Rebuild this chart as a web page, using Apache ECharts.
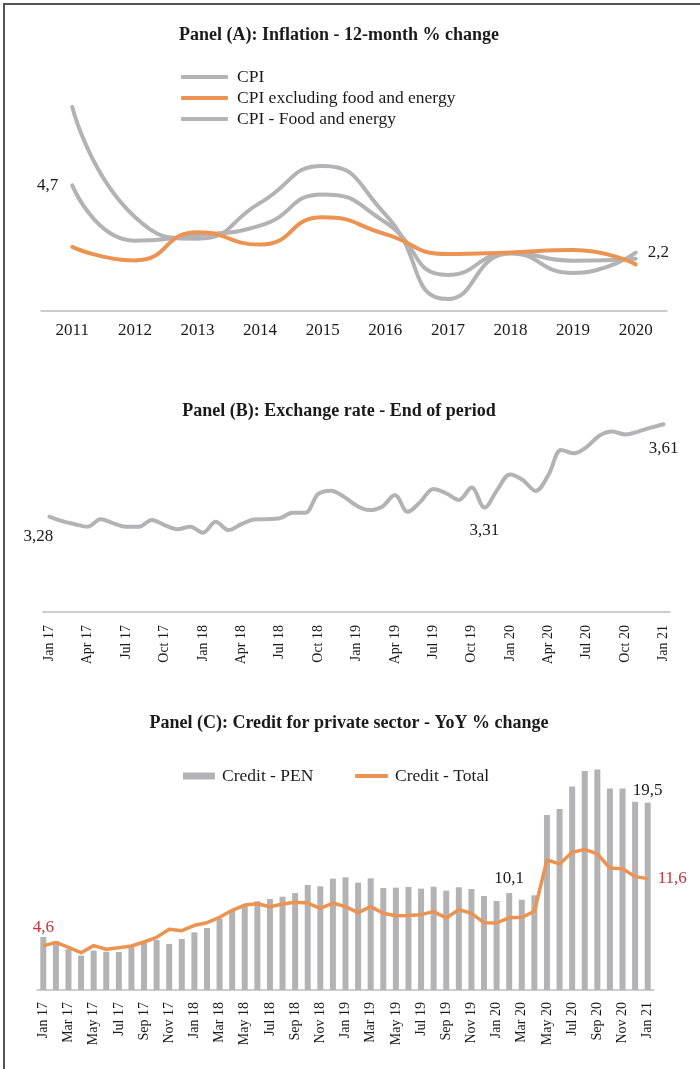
<!DOCTYPE html>
<html>
<head>
<meta charset="utf-8">
<script src="https://cdn.jsdelivr.net/npm/echarts@6/dist/echarts.min.js"></script>
<style>
  body { margin: 0; background: #fff; }
  #main { position: absolute; left: 0; top: 0; width: 700px; height: 1069px; }
  .frame { position: absolute; left: 3px; top: 3px; width: 700px; height: 1069px;
           border-top: 2px solid #555; border-left: 2px solid #555; pointer-events: none; }
</style>
</head>
<body>
<div id="main"></div>
<div class="frame"></div>
<script>
// panel A - inflation, 12-month % change
const years = ['2011', '2012', '2013', '2014', '2015', '2016', '2017', '2018', '2019', '2020'];
const cpi = [4.74, 2.65, 2.86, 3.22, 4.40, 3.35, 1.36, 2.19, 1.90, 1.97];
const cpiCore = [2.42, 1.91, 2.97, 2.51, 3.54, 2.90, 2.15, 2.21, 2.30, 1.76];
const cpiFoodEnergy = [7.70, 3.55, 2.73, 4.08, 5.47, 3.65, 0.45, 2.17, 1.43, 2.20];

// panel B and C - monthly, Jan 17 .. Jan 21
const months = [
  'Jan 17', 'Feb 17', 'Mar 17', 'Apr 17', 'May 17', 'Jun 17', 'Jul 17', 'Aug 17', 'Sep 17', 'Oct 17', 'Nov 17', 'Dec 17',
  'Jan 18', 'Feb 18', 'Mar 18', 'Apr 18', 'May 18', 'Jun 18', 'Jul 18', 'Aug 18', 'Sep 18', 'Oct 18', 'Nov 18', 'Dec 18',
  'Jan 19', 'Feb 19', 'Mar 19', 'Apr 19', 'May 19', 'Jun 19', 'Jul 19', 'Aug 19', 'Sep 19', 'Oct 19', 'Nov 19', 'Dec 19',
  'Jan 20', 'Feb 20', 'Mar 20', 'Apr 20', 'May 20', 'Jun 20', 'Jul 20', 'Aug 20', 'Sep 20', 'Oct 20', 'Nov 20', 'Dec 20',
  'Jan 21'
];
const exchangeRate = [
  3.279, 3.263, 3.252, 3.243, 3.270, 3.255, 3.243, 3.243, 3.267, 3.249, 3.234, 3.243,
  3.222, 3.261, 3.231, 3.252, 3.269, 3.270, 3.273, 3.293, 3.293, 3.359, 3.371, 3.350,
  3.318, 3.302, 3.314, 3.356, 3.296, 3.332, 3.377, 3.362, 3.338, 3.382, 3.311, 3.374,
  3.429, 3.409, 3.370, 3.427, 3.516, 3.504, 3.527, 3.567, 3.581, 3.571, 3.581, 3.595,
  3.607
];
const creditPen = [
  5.52, 5.10, 4.24, 3.58, 4.10, 3.99, 3.96, 4.62, 5.10, 5.20, 4.79, 5.31,
  6.00, 6.46, 7.43, 8.26, 8.78, 9.24, 9.48, 9.72, 10.10, 10.94, 10.80, 11.60,
  11.74, 11.18, 11.63, 10.63, 10.66, 10.73, 10.56, 10.76, 10.35, 10.70, 10.52, 9.79,
  9.27, 10.10, 9.41, 9.86, 18.23, 18.85, 21.20, 22.80, 22.98, 21.00, 21.00, 19.60,
  19.50
];
const creditTotal = [
  4.60, 4.96, 4.44, 3.89, 4.62, 4.24, 4.41, 4.58, 5.00, 5.49, 6.32, 6.18,
  6.74, 7.01, 7.57, 8.30, 8.85, 8.99, 8.68, 8.96, 9.13, 9.06, 8.50, 9.06,
  8.68, 8.06, 8.68, 7.99, 7.74, 7.77, 7.85, 8.16, 7.50, 8.37, 7.99, 7.01,
  6.98, 7.53, 7.57, 8.20, 13.54, 13.13, 14.34, 14.65, 14.17, 12.71, 12.64, 11.81,
  11.60
];

const serif = "'Liberation Serif', 'Times New Roman', serif";
const grey = '#b3b3b5';
const orange = '#ec9352';
const red = '#c8323c';
const ink = '#1a1a1a';

const comma = (v, d) => v.toFixed(d).replace('.', ',');

// put a label on a few chosen points only
function withLabels(values, marks) {
  return values.map((v, i) => {
    if (!marks[i]) return v;
    return { value: v, label: Object.assign({ show: true }, marks[i]) };
  });
}

const chart = echarts.init(document.getElementById('main'));

const axisLine = { lineStyle: { color: '#bdbdbd', width: 1.5 } };
const titleStyle = { fontFamily: serif, fontSize: 18, fontWeight: 'bold', color: ink };

const option = {
  animation: false,
  textStyle: { fontFamily: serif, color: ink },
  title: [
    { text: 'Panel (A): Inflation - 12-month % change', left: 334, top: 21, textAlign: 'center',
      textStyle: titleStyle },
    { text: 'Panel (B): Exchange rate - End of period', left: 334, top: 397, textAlign: 'center',
      textStyle: titleStyle },
    { text: 'Panel (C): Credit for private sector - YoY % change', left: 344, top: 709, textAlign: 'center',
      textStyle: titleStyle }
  ],
  legend: [
    { data: ['CPI', 'CPI excluding food and energy', 'CPI - Food and energy'],
      orient: 'vertical', left: 181, top: 68, padding: 0, itemGap: 3,
      icon: 'roundRect', itemWidth: 47, itemHeight: 4,
      textStyle: { fontFamily: serif, fontSize: 17.5, lineHeight: 17, color: ink, padding: [0, 0, 0, 4] } },
    { data: ['Credit - PEN'], left: 183, top: 767, padding: 0,
      icon: 'rect', itemWidth: 32, itemHeight: 7,
      textStyle: { fontFamily: serif, fontSize: 17.5, lineHeight: 17, color: ink, padding: [0, 0, 0, 2] } },
    { data: ['Credit - Total'], left: 355, top: 767, padding: 0,
      icon: 'roundRect', itemWidth: 33, itemHeight: 4,
      textStyle: { fontFamily: serif, fontSize: 17.5, lineHeight: 17, color: ink, padding: [0, 0, 0, 2] } }
  ],
  grid: [
    { left: 41, right: 33, top: 99, height: 212 },
    { left: 43, right: 30, top: 415, height: 197 },
    { left: 37, right: 46, top: 750, height: 240 }
  ],
  xAxis: [
    { type: 'category', gridIndex: 0, data: years, boundaryGap: true,
      axisLine: axisLine, axisTick: { show: false },
      axisLabel: { fontFamily: serif, fontSize: 17, color: ink, margin: 11 } },
    { type: 'category', gridIndex: 1, data: months, boundaryGap: true,
      axisLine: axisLine, axisTick: { show: false },
      axisLabel: { fontFamily: serif, fontSize: 14, color: ink, rotate: 90, interval: 2, margin: 13 } },
    { type: 'category', gridIndex: 2, data: months, boundaryGap: true,
      axisLine: axisLine, axisTick: { show: false },
      axisLabel: { fontFamily: serif, fontSize: 14, color: ink, rotate: 90, interval: 1, margin: 12 } }
  ],
  yAxis: [
    { type: 'value', gridIndex: 0, min: 0, max: 8, show: false },
    { type: 'value', gridIndex: 1, min: 2.94, max: 3.64, show: false },
    { type: 'value', gridIndex: 2, min: 0, max: 25, show: false }
  ],
  series: [
    { name: 'CPI', type: 'line', xAxisIndex: 0, yAxisIndex: 0, smooth: 0.55,
      symbol: 'circle', symbolSize: 0, z: 3,
      lineStyle: { color: grey, width: 4, cap: 'round' }, itemStyle: { color: grey },
      label: { fontFamily: serif, fontSize: 17, color: ink },
      data: withLabels(cpi, { 0: { position: 'left', distance: 14, formatter: p => comma(p.value, 1) } }) },
    { name: 'CPI excluding food and energy', type: 'line', xAxisIndex: 0, yAxisIndex: 0, smooth: 0.55,
      symbol: 'none', z: 4,
      lineStyle: { color: orange, width: 4, cap: 'round' }, itemStyle: { color: orange },
      data: cpiCore },
    { name: 'CPI - Food and energy', type: 'line', xAxisIndex: 0, yAxisIndex: 0, smooth: 0.55,
      symbol: 'circle', symbolSize: 0, z: 3,
      lineStyle: { color: grey, width: 4, cap: 'round' }, itemStyle: { color: grey },
      label: { fontFamily: serif, fontSize: 17, color: ink },
      data: withLabels(cpiFoodEnergy, { 9: { position: 'right', distance: 12, formatter: p => comma(p.value, 1) } }) },

    { name: 'Exchange rate', type: 'line', xAxisIndex: 1, yAxisIndex: 1, smooth: 0.35,
      symbol: 'circle', symbolSize: 0,
      lineStyle: { color: grey, width: 4, cap: 'round' }, itemStyle: { color: grey },
      label: { fontFamily: serif, fontSize: 17, color: ink },
      data: withLabels(exchangeRate, {
        0: { position: 'bottom', distance: 11, offset: [-11, 0], formatter: p => comma(p.value, 2) },
        34: { position: 'bottom', distance: 14, formatter: p => comma(p.value, 2) },
        48: { position: 'bottom', distance: 16, formatter: p => comma(p.value, 2) }
      }) },

    { name: 'Credit - PEN', type: 'bar', xAxisIndex: 2, yAxisIndex: 2, barWidth: 6,
      itemStyle: { color: grey },
      label: { fontFamily: serif, fontSize: 17, color: ink },
      data: withLabels(creditPen, {
        37: { position: 'top', distance: 6, formatter: p => comma(p.value, 1) },
        48: { position: 'top', distance: 4, formatter: p => comma(p.value, 1) }
      }) },
    { name: 'Credit - Total', type: 'line', xAxisIndex: 2, yAxisIndex: 2,
      symbol: 'circle', symbolSize: 0,
      lineStyle: { color: orange, width: 3.5, join: 'round' }, itemStyle: { color: orange },
      label: { fontFamily: serif, fontSize: 17, color: red },
      data: withLabels(creditTotal, {
        0: { position: 'top', distance: 10, formatter: p => comma(p.value, 1) },
        48: { position: 'right', distance: 10, formatter: p => comma(p.value, 1) }
      }) }
  ]
};

chart.setOption(option);
</script>
</body>
</html>
